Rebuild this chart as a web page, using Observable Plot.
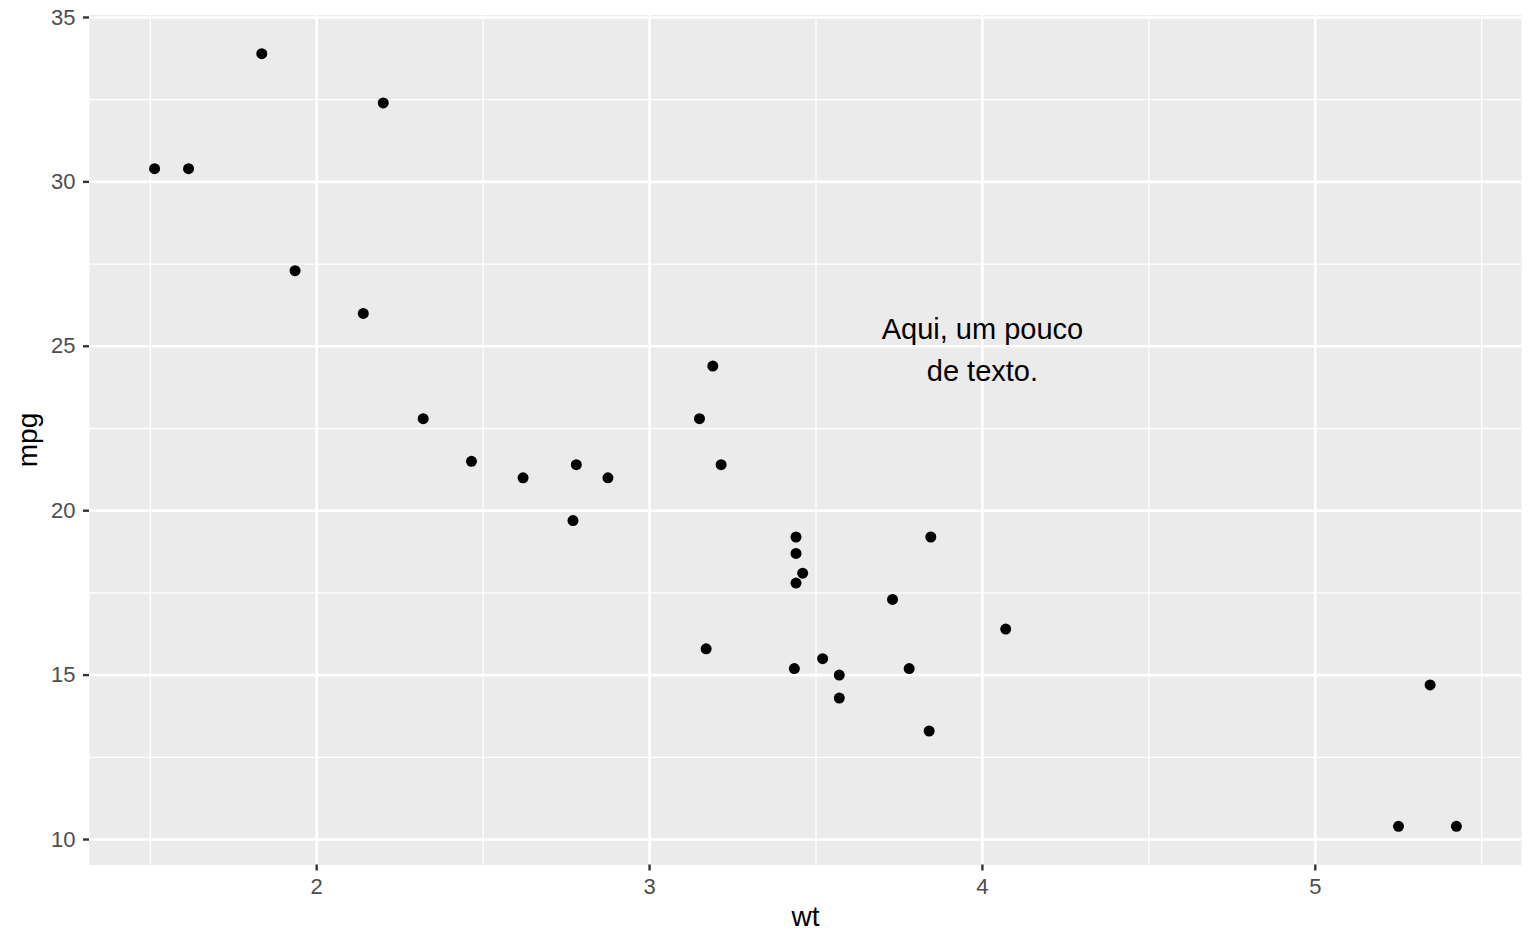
<!DOCTYPE html>
<html>
<head>
<meta charset="utf-8">
<script src="https://cdn.jsdelivr.net/npm/d3@7"></script>
<script src="https://cdn.jsdelivr.net/npm/@observablehq/plot@0.6"></script>
<style>
  html, body { margin: 0; padding: 0; background: #fff; }
  #chart svg { display: block; }
</style>
</head>
<body>
<div id="chart"></div>
<script>
// mtcars: wt (1000 lbs) and mpg
const wt  = [2.620, 2.875, 2.320, 3.215, 3.440, 3.460, 3.570, 3.190, 3.150, 3.440, 3.440, 4.070, 3.730, 3.780, 5.250, 5.424, 5.345, 2.200, 1.615, 1.835, 2.465, 3.520, 3.435, 3.840, 3.845, 1.935, 2.140, 1.513, 3.170, 2.770, 3.570, 2.780];
const mpg = [21.0, 21.0, 22.8, 21.4, 18.7, 18.1, 14.3, 24.4, 22.8, 19.2, 17.8, 16.4, 17.3, 15.2, 10.4, 10.4, 14.7, 32.4, 30.4, 33.9, 21.5, 15.5, 15.2, 13.3, 19.2, 27.3, 26.0, 30.4, 15.8, 19.7, 15.0, 21.4];

const xMajor = [2, 3, 4, 5];
const xMinor = [1.5, 2.5, 3.5, 4.5, 5.5];
const yMajor = [10, 15, 20, 25, 30, 35];
const yMinor = [12.5, 17.5, 22.5, 27.5, 32.5];

const annotation = [{x: 4, y: 25, label: "Aqui, um pouco\nde texto."}];

const data = wt.map((w, i) => ({wt: w, mpg: mpg[i]}));

const xr = d3.extent(wt), yr = d3.extent(mpg);
const xPad = (xr[1] - xr[0]) * 0.05, yPad = (yr[1] - yr[0]) * 0.05;

const font = "'Liberation Sans', Arial, Helvetica, sans-serif";

const chart = Plot.plot({
  width: 1536,
  height: 949,
  marginLeft: 89,
  marginRight: 15,
  marginTop: 14.5,
  marginBottom: 84.5,
  style: {fontFamily: font, background: "#ffffff"},
  x: {domain: [xr[0] - xPad, xr[1] + xPad]},
  y: {domain: [yr[0] - yPad, yr[1] + yPad]},
  marks: [
    Plot.frame({fill: "#EBEBEB", stroke: null}),
    Plot.ruleX(xMinor, {stroke: "#ffffff", strokeWidth: 1.3}),
    Plot.ruleY(yMinor, {stroke: "#ffffff", strokeWidth: 1.3}),
    Plot.ruleX(xMajor, {stroke: "#ffffff", strokeWidth: 2.6}),
    Plot.ruleY(yMajor, {stroke: "#ffffff", strokeWidth: 2.6}),
    Plot.axisX(xMajor, {tickSize: 6, tickPadding: 7, fontSize: 22, stroke: "#333333", fill: "#4D4D4D", strokeWidth: 2.4, label: null, tickFormat: d => String(d)}),
    Plot.axisY(yMajor, {tickSize: 6, tickPadding: 8, fontSize: 22, stroke: "#333333", fill: "#4D4D4D", strokeWidth: 2.4, label: null, tickFormat: d => String(d)}),
    Plot.text(["wt"], {frameAnchor: "bottom", dy: 52, textAnchor: "middle", lineAnchor: "middle", fontSize: 28, fill: "#000000"}),
    Plot.text(["mpg"], {frameAnchor: "left", dx: -61, rotate: -90, textAnchor: "middle", lineAnchor: "middle", fontSize: 28, fill: "#000000"}),
    Plot.dot(data, {x: "wt", y: "mpg", r: 5.5, fill: "#000000", stroke: null}),
    Plot.text(annotation, {x: "x", y: "y", text: "label", fontSize: 29, lineHeight: 1.45, fill: "#000000", textAnchor: "middle"})
  ]
});
document.getElementById("chart").append(chart);
</script>
</body>
</html>
